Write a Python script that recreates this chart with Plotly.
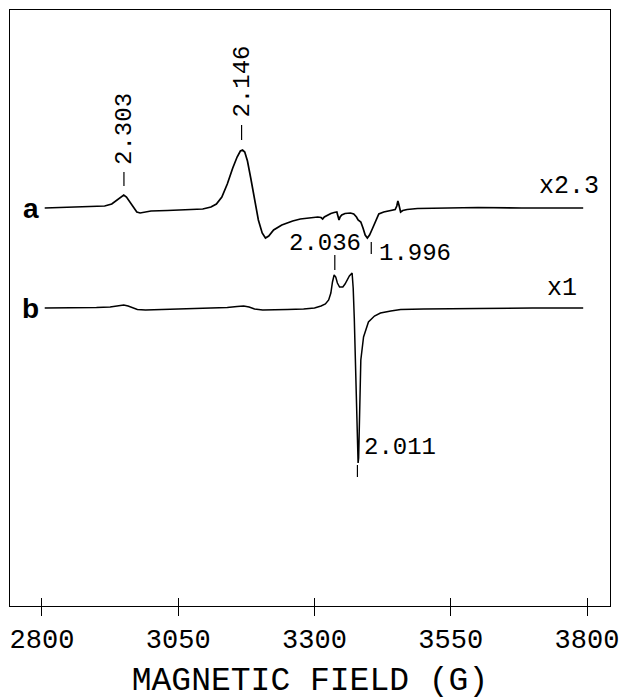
import plotly.graph_objects as go

# ---- spectrum data (field in gauss, signal in display units) ----
field_a = [2805, 2833, 2870, 2900, 2915, 2928, 2938, 2945, 2950, 2955, 2962, 2968,
           2974, 2980, 2988, 3000, 3030, 3070, 3095, 3110, 3120, 3130, 3140, 3150,
           3158, 3164, 3168, 3172, 3177, 3183, 3190, 3197, 3204, 3210, 3216, 3225,
           3240, 3260, 3274, 3290, 3306, 3312, 3315, 3318, 3324, 3330, 3336, 3341,
           3343, 3345, 3347, 3350, 3356, 3366, 3372, 3377, 3380, 3385, 3389, 3393,
           3397, 3401, 3406, 3411, 3418, 3427, 3440, 3448, 3451, 3453, 3455, 3458,
           3462, 3470, 3489, 3530, 3600, 3680, 3750, 3793]
signal_a = [0, 0.5, 0.5, 1, 2, 4, 8, 11.5, 13, 11, 5, 0,
            -4, -5, -4.5, -3, -2.5, -1.5, -1, 1, 4, 11, 24, 40,
            51, 57, 58, 56, 47, 30, 8, -12, -25, -30, -28, -22,
            -17, -13, -11, -10, -9, -9.5, -11, -9, -7, -5.5, -4.5, -4,
            -8, -12, -9, -7, -5.5, -5, -6, -9, -12, -14, -20, -27,
            -30, -27, -21, -15, -6, -4, -2.5, -1.5, 2, 7, 3, -4,
            -2.5, -1.5, -0.5, 0, 0.5, 0, 0, 0]

field_b = [2805, 2850, 2900, 2925, 2938, 2950, 2958, 2966, 2975, 2990, 3020, 3060,
           3100, 3140, 3158, 3170, 3180, 3190, 3205, 3220, 3250, 3280, 3300, 3312,
           3320, 3326, 3330, 3333, 3336, 3339, 3342, 3346, 3352, 3356, 3360, 3364,
           3369, 3371, 3373, 3375, 3377, 3379, 3380, 3381, 3382, 3385, 3390, 3399,
           3410, 3421, 3440, 3458, 3500, 3550, 3600, 3700, 3793]
signal_b = [0, 0, 0.5, 1, 2, 3, 2, 0, -1.5, -2, -1.5, -1,
            -0.5, 0.5, 1.5, 2, 1, -1, -2, -2, -1.5, -1, 0, 2,
            4, 8, 15, 26, 33, 31, 25, 21, 21, 24, 28, 32,
            35, 20, -10, -50, -100, -145, -155, -150, -125, -52, -29, -14,
            -8, -5, -3, -1.5, -1, -0.5, -0.5, 0, 0]

offset_a = 100          # vertical offset of spectrum a
offset_b = 0            # vertical offset of spectrum b
gain_labels = ["x2.3", "x1"]
trace_labels = ["a", "b"]

# g-values marked on the spectra, with microwave frequency used to place them
g_values = [2.303, 2.146, 2.036, 1.996, 2.011]
mw_freq_ghz = 9.51
mu_b_mhz_per_g = 1.39962

tick_vals = [2800, 3050, 3300, 3550, 3800]
x_title = "MAGNETIC FIELD (G)"


def field_of(g):
    return mw_freq_ghz * 1000.0 / (g * mu_b_mhz_per_g)


mono = "Liberation Mono"
fig = go.Figure()

fig.add_trace(go.Scatter(
    x=field_a, y=[v + offset_a for v in signal_a], mode="lines",
    line=dict(color="black", width=1.7), hoverinfo="skip", showlegend=False))
fig.add_trace(go.Scatter(
    x=field_b, y=[v + offset_b for v in signal_b], mode="lines",
    line=dict(color="black", width=1.5), hoverinfo="skip", showlegend=False,
    xaxis="x2"))

# label marks: (field, tick y0, tick y1)
g_303, g_146, g_036, g_996, g_011 = [field_of(g) for g in g_values]
marks = [
    (g_303, 122, 136),
    (g_146, 168, 183),
    (g_036, 38, 53),
    (g_996, 54, 66),
    (g_011, -169, -157),
]
for xg, y0, y1 in marks:
    fig.add_shape(type="line", x0=xg, x1=xg, y0=y0, y1=y1, xref="x", yref="y",
                  line=dict(color="black", width=1.2))

lab_font = dict(family=mono, size=24, color="black")
# rotated labels above the low-field peaks
fig.add_annotation(x=g_303, y=141, text=f"{g_values[0]:.3f}", textangle=-90,
                   xanchor="center", yanchor="bottom", showarrow=False, font=lab_font)
fig.add_annotation(x=g_146, y=188, text=f"{g_values[1]:.3f}", textangle=-90,
                   xanchor="center", yanchor="bottom", showarrow=False, font=lab_font)
# horizontal labels near the g~2 region
fig.add_annotation(x=g_036, y=65, text=f"{g_values[2]:.3f}", xshift=-10,
                   xanchor="center", yanchor="middle", showarrow=False, font=lab_font)
fig.add_annotation(x=g_996, y=55, text=f"{g_values[3]:.3f}", xshift=6,
                   xanchor="left", yanchor="middle", showarrow=False, font=lab_font)
fig.add_annotation(x=g_011, y=-139, text=f"{g_values[4]:.3f}", xshift=5,
                   xanchor="left", yanchor="middle", showarrow=False, font=lab_font)

# spectrum letters and gain factors
for lab, off in zip(trace_labels, [offset_a, offset_b]):
    fig.add_annotation(x=field_a[0], y=off, text=f"<b>{lab}</b>", xshift=-4,
                       xanchor="right", yanchor="middle", showarrow=False,
                       font=dict(family="Liberation Sans", size=28, color="black"))
fig.add_annotation(x=field_a[-1], y=offset_a + 22, text=gain_labels[0], xshift=18,
                   xanchor="right", yanchor="middle", showarrow=False,
                   font=dict(family=mono, size=25, color="black"))
fig.add_annotation(x=field_b[-1], y=offset_b + 20, text=gain_labels[1], xshift=-4,
                   xanchor="right", yanchor="middle", showarrow=False,
                   font=dict(family=mono, size=25, color="black"))

x_range = [2741.3, 3842.2]
fig.update_layout(
    width=620, height=700,
    margin=dict(l=10, r=10, t=10, b=94, autoexpand=False),
    paper_bgcolor="white", plot_bgcolor="white",
    showlegend=False,
    xaxis=dict(range=x_range, tickvals=tick_vals, ticktext=[str(v) for v in tick_vals],
               ticks="outside", ticklen=9, tickwidth=1, tickcolor="black",
               showline=True, linecolor="black", linewidth=1, mirror=True,
               showgrid=False, zeroline=False, automargin=True,
               tickfont=dict(family=mono, size=27, color="black"),
               title=dict(text=x_title, standoff=24,
                          font=dict(family=mono, size=33, color="black"))),
    xaxis2=dict(range=x_range, overlaying="x", side="bottom", matches="x",
                tickvals=tick_vals, ticks="inside", ticklen=8, tickwidth=1,
                tickcolor="black", showticklabels=False, showgrid=False,
                zeroline=False, showline=False, automargin=False),
    yaxis=dict(range=[-298, 298], showticklabels=False, ticks="", showgrid=False,
               zeroline=False, showline=True, linecolor="black", linewidth=1,
               mirror=True, automargin=False),
)

fig.write_html("out.html")
